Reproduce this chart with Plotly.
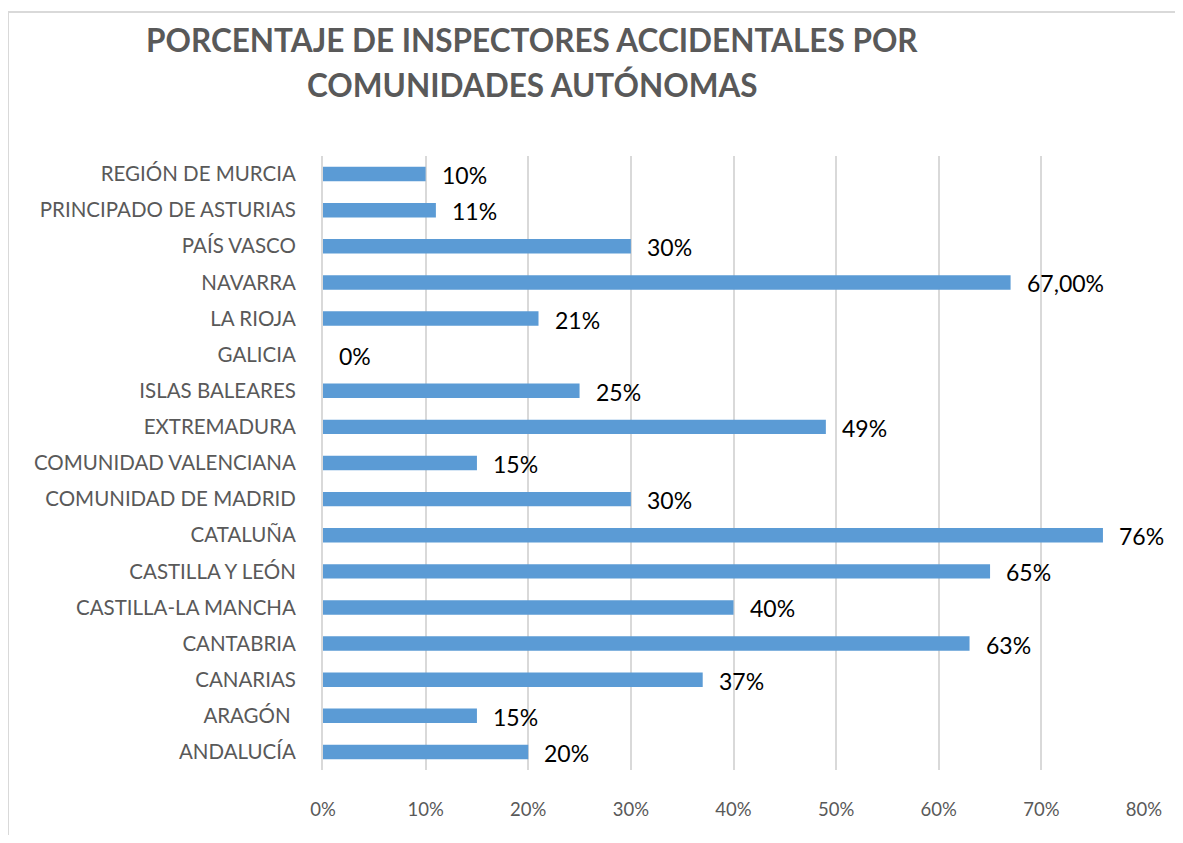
import plotly.graph_objects as go

categories = ["ANDALUCÍA", "ARAGÓN ", "CANARIAS", "CANTABRIA", "CASTILLA-LA MANCHA",
              "CASTILLA Y LEÓN", "CATALUÑA", "COMUNIDAD DE MADRID", "COMUNIDAD VALENCIANA",
              "EXTREMADURA", "ISLAS BALEARES", "GALICIA", "LA RIOJA", "NAVARRA",
              "PAÍS VASCO", "PRINCIPADO DE ASTURIAS", "REGIÓN DE MURCIA"]
values = [0.20, 0.15, 0.37, 0.63, 0.40, 0.65, 0.76, 0.30, 0.15, 0.49, 0.25, 0.00, 0.21, 0.67, 0.30, 0.11, 0.10]
labels = ["20%", "15%", "37%", "63%", "40%", "65%", "76%", "30%", "15%", "49%", "25%", "0%", "21%", "67,00%", "30%", "11%", "10%"]
x_ticks = [0, 0.1, 0.2, 0.3, 0.4, 0.5, 0.6, 0.7, 0.8]
x_ticklabels = ["0%", "10%", "20%", "30%", "40%", "50%", "60%", "70%", "80%"]
title_lines = ["PORCENTAJE DE INSPECTORES ACCIDENTALES POR", "COMUNIDADES AUTÓNOMAS"]

FONT = "Lato, 'Open Sans', sans-serif"
OFF = 8  # page body margin
W, H = 1183 - OFF, 843 - 2 * OFF
PL, PR, PT, PB = 323 - OFF, 1144 - OFF, 156 - OFF, 770 - OFF
PW, PH = PR - PL, PB - PT


def px(xp):
    return (xp - OFF - PL) / PW


def py(yp):
    return (PB - (yp - OFF)) / PH


fig = go.Figure(go.Bar(
    x=values, y=categories, orientation="h",
    marker=dict(color="#5b9bd5", line=dict(width=0)),
    hoverinfo="skip",
))

for v, c, t in zip(values, categories, labels):
    fig.add_annotation(x=v, y=c, text=t, showarrow=False, xanchor="left", yanchor="middle",
                       xshift=14, yshift=-1, font=dict(family=FONT, size=23, color="#000000"))

for line, yc in zip(title_lines, [40, 85]):
    fig.add_annotation(xref="paper", yref="paper", x=px(532), y=py(yc),
                       text="<b>" + line + "</b>", showarrow=False,
                       xanchor="center", yanchor="middle",
                       font=dict(family=FONT, size=31.5, color="#595959"))

border = dict(color="#d9d9d9", width=2)
fig.update_layout(
    width=W, height=H,
    margin=dict(l=PL, r=W - PR, t=PT, b=H - PB),
    paper_bgcolor="white", plot_bgcolor="white",
    bargap=0.6,
    showlegend=False,
    font=dict(family=FONT, color="#595959"),
    xaxis=dict(range=[0, 0.8], tickvals=x_ticks, ticktext=x_ticklabels,
               showgrid=True, gridcolor="#d9d9d9", gridwidth=2,
               zeroline=False, showline=False, ticks="",
               tickfont=dict(family=FONT, size=18.5, color="#595959"),
               ticklabelstandoff=26, fixedrange=True),
    yaxis=dict(categoryorder="array", categoryarray=categories,
               showline=True, linecolor="#d9d9d9", linewidth=2,
               showgrid=False, ticks="",
               tickfont=dict(family=FONT, size=20.5, color="#595959"),
               ticklabelstandoff=21, fixedrange=True),
    shapes=[
        dict(type="line", xref="paper", yref="paper", x0=px(8), x1=px(1183), y0=py(12), y1=py(12),
             line=border, layer="below"),
        dict(type="line", xref="paper", yref="paper", x0=px(8), x1=px(8), y0=py(12), y1=py(843),
             line=border, layer="below"),
    ],
)

fig.write_html("out.html")
